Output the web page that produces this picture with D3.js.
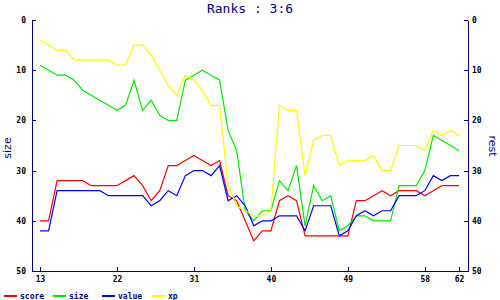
<!DOCTYPE html>
<html>
<head>
<meta charset="utf-8">
<script src="https://cdn.jsdelivr.net/npm/d3@7"></script>
<style>
    body { margin: 0; background: #fff; }
    svg { display: block; }
    .axis path, .axis line { stroke: #000080; shape-rendering: crispEdges; }
    .axis text { font-family: "DejaVu Sans Mono", monospace; font-size: 8px; font-weight: bold; fill: #000; }
</style>
</head>
<body>
<div id="chart"></div>
<script>
(function (d3) {
    "use strict";

    /***** Données *****/
    const title = "Ranks : 3:6";
    const x_ticks = [13, 22, 31, 40, 49, 58, 62];
    const y_ticks = [0, 10, 20, 30, 40, 50];
    const series_names = ["score", "size", "value", "xp"];
    const series_colors = ["#ff0000", "#00e600", "#0000ff", "#ffff00"];

    const ranks = d3.range(13, 63);   // 13 .. 62

    const score = [40, 40, 32, 32, 32, 32, 33, 33, 33, 33, 32, 31, 33, 36, 34, 29, 29, 28, 27, 28,
                   29, 28, 35, 36, 40, 44, 42, 42, 36, 35, 36, 43, 43, 43, 43, 43, 43, 36, 36, 35,
                   34, 35, 34, 34, 34, 35, 34, 33, 33, 33];
    const size  = [9, 10, 11, 11, 12, 14, 15, 16, 17, 18, 17, 12, 18, 16, 19, 20, 20, 12, 11, 10,
                   11, 12, 22, 26, 38, 40, 38, 38, 32, 34, 29, 41, 33, 36, 35, 42, 41, 39, 39, 40,
                   40, 40, 33, 33, 33, 30, 23, 24, 25, 26];
    const value = [42, 42, 34, 34, 34, 34, 34, 34, 35, 35, 35, 35, 35, 37, 36, 34, 35, 31, 30, 30,
                   31, 29, 36, 35, 37, 41, 40, 40, 39, 39, 39, 42, 37, 37, 37, 43, 42, 39, 38, 39,
                   38, 38, 35, 35, 35, 34, 31, 32, 31, 31];
    const xp    = [4, 5, 6, 6, 8, 8, 8, 8, 8, 9, 9, 5, 5, 7, 10, 13, 15, 11, 12, 14,
                   17, 17, 33, 37, 38, 39, 39, 38, 17, 18, 18, 31, 24, 23, 23, 29, 28, 28, 28, 27,
                   30, 30, 25, 25, 25, 26, 22, 23, 22, 23];

    const all_series = [score, size, value, xp];

    /***** Configuration *****/
    const width = 500, height = 300;
    const frame = { left: 32, right: 468, top: 20, bottom: 271 };

    const svg = d3.select("#chart").append("svg")
        .attr("width", width)
        .attr("height", height);

    /***** Échelles *****/
    var x = d3.scaleLinear().domain([13, 62]).range([40, 459]);
    var y = d3.scaleLinear().domain([0, 50]).range([frame.top, frame.bottom]);

    /***** Axes *****/
    svg.append("g")
        .attr("class", "axis")
        .attr("transform", "translate(" + frame.left + ",0)")
        .call(d3.axisLeft(y).tickValues(y_ticks).tickSizeInner(-4).tickSizeOuter(0).tickPadding(6))
        .call(g => g.select(".domain").remove());

    svg.append("g")
        .attr("class", "axis")
        .attr("transform", "translate(" + frame.right + ",0)")
        .call(d3.axisRight(y).tickValues(y_ticks).tickSizeInner(-4).tickSizeOuter(0).tickPadding(4))
        .call(g => g.select(".domain").remove());

    svg.append("g")
        .attr("class", "axis")
        .attr("transform", "translate(0," + frame.bottom + ")")
        .call(d3.axisBottom(x).tickValues(x_ticks).tickSizeInner(-4).tickSizeOuter(0).tickPadding(5))
        .call(g => g.select(".domain").remove());

    // lignes des axes
    const axis_lines = [
        [frame.left, frame.top, frame.left, frame.bottom],
        [frame.right, frame.top, frame.right, frame.bottom],
        [frame.left, frame.bottom, frame.right, frame.bottom]
    ];
    svg.append("g").selectAll("line")
        .data(axis_lines)
        .join("line")
        .attr("x1", d => d[0] + 0.5).attr("y1", d => d[1] + 0.5)
        .attr("x2", d => d[2] + 0.5).attr("y2", d => d[3] + 0.5)
        .attr("stroke", "#000080")
        .attr("stroke-width", 1)
        .attr("shape-rendering", "crispEdges");

    /***** Courbes *****/
    var line = d3.line()
        .x((d, i) => x(ranks[i]))
        .y(d => y(d));

    svg.append("g").selectAll("path")
        .data(all_series)
        .join("path")
        .attr("d", line)
        .attr("fill", "none")
        .attr("stroke", (d, i) => series_colors[i])
        .attr("stroke-width", 1.2);

    /***** Textes *****/
    svg.append("text")
        .attr("x", 250).attr("y", 13)
        .attr("text-anchor", "middle")
        .style("font-family", "'DejaVu Sans Mono', monospace")
        .style("font-size", "13px")
        .attr("fill", "#000080")
        .text(title);

    svg.append("text")
        .attr("transform", "translate(11,148) rotate(-90)")
        .attr("text-anchor", "middle")
        .style("font-family", "'DejaVu Sans', sans-serif")
        .style("font-size", "11px")
        .attr("fill", "#000080")
        .text("size");

    svg.append("text")
        .attr("transform", "translate(489,146) rotate(90)")
        .attr("text-anchor", "middle")
        .style("font-family", "'DejaVu Sans', sans-serif")
        .style("font-size", "11px")
        .attr("fill", "#000080")
        .text("rest");

    /***** Légende *****/
    const legend_x = [4, 53, 102, 152];
    var legend = svg.append("g").selectAll("g")
        .data(series_names)
        .join("g")
        .attr("transform", (d, i) => "translate(" + legend_x[i] + ",296)");

    legend.append("line")
        .attr("x1", 0).attr("x2", 13)
        .attr("stroke", (d, i) => series_colors[i])
        .attr("stroke-width", 2);

    legend.append("text")
        .attr("x", 16).attr("y", 3)
        .style("font-family", "'DejaVu Sans Mono', monospace")
        .style("font-size", "8px")
        .style("font-weight", "bold")
        .attr("fill", "#000080")
        .text(d => d);

})(d3);
</script>
</body>
</html>
